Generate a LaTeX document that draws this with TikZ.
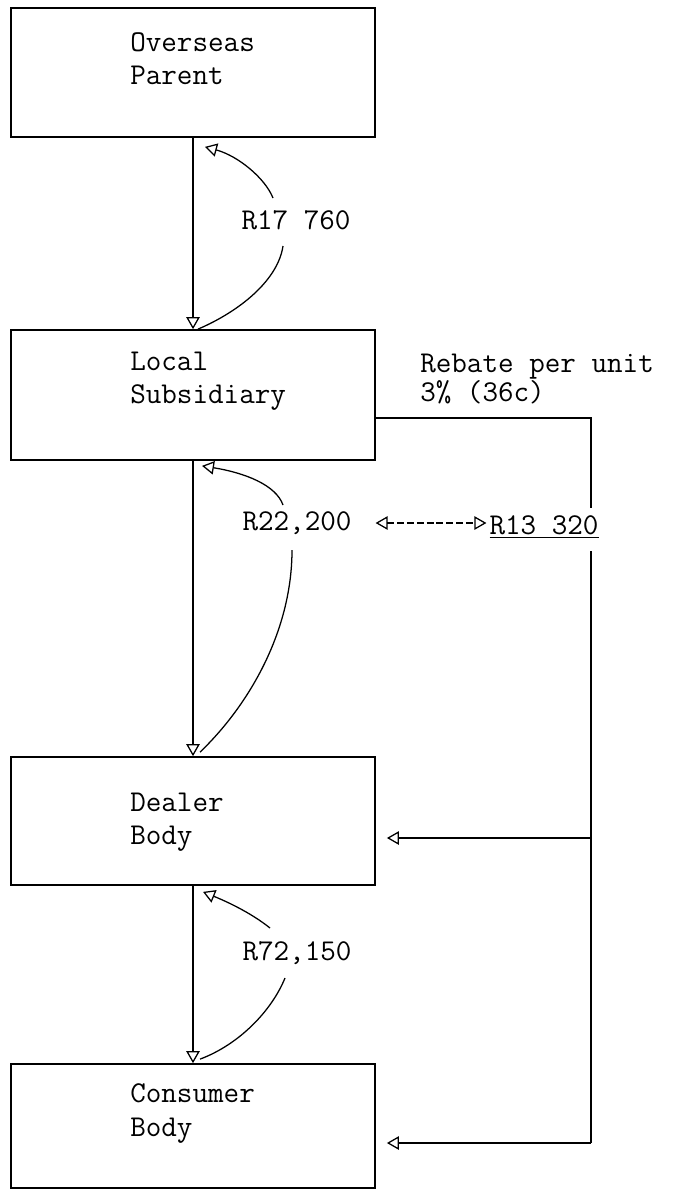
\documentclass[tikz,border=0pt]{standalone}
\usepackage{tikz}
\usetikzlibrary{arrows.meta,calc}

\begin{document}
\begin{tikzpicture}[x=0.025cm, y=-0.025cm,
  unitbox/.style={draw, line width=1.2pt, minimum width=9.1cm, inner sep=0pt},
  boxtext/.style={anchor=west, align=left, inner sep=0pt, font=\fontsize{21.5pt}{23.5pt}\selectfont\ttfamily},
  amount/.style={inner sep=2pt, font=\fontsize{21.5pt}{23.5pt}\selectfont\ttfamily},
  note/.style={anchor=west, align=left, inner sep=0pt, font=\fontsize{21.5pt}{20pt}\selectfont\ttfamily},
  flow/.style={line width=0.9pt},
  >={Triangle[open, length=8.5pt, width=9.5pt]}]
\useasboundingbox (0,0) rectangle (678,1191);

\node[unitbox, minimum height=3.225cm] (P) at (193,72.5) {};
\node[unitbox, minimum height=3.25cm] (L) at (193,395) {};
\node[unitbox, minimum height=3.2cm] (D) at (193,821) {};
\node[unitbox, minimum height=3.1cm] (C) at (193,1126) {};

\node[boxtext] (Pt) at (130,58.5) {Overseas\\Parent};
\node[boxtext] (Lt) at (130,381) {Local\\Subsidiary};
\node[boxtext] (Dt) at (130,822.5) {Dealer\\Body};
\node[boxtext] (Ct) at (130,1113.5) {Consumer\\Body};

\node[amount] (a1) at (296,220) {R17 760};
\node[amount] (a2) at (297,523) {R22,200};
\node[amount] (a3) at (297,953) {R72,150};
\node[amount] (r) at (544,527) {\underline{R13 320}};
\node[note] (reb) at (420,379) {Rebate per unit\\3\% (36c)};

\draw[flow,->] (P.south) -- (L.north);
\draw[flow,->] (L.south) -- (D.north);
\draw[flow,->] (D.south) -- (C.north);

\draw[flow,->] ($(a1)+(-23,-22)$) .. controls ($(a1)+(-31,-42)$) and ($(P.south)+(45,18)$) .. ($(P.south)+(12,9)$);
\draw[flow] ($(a1)+(-13,26)$) .. controls ($(a1)+(-18,60)$) and ($(L.north)+(47,-18)$) .. ($(L.north)+(5,0)$);

\draw[flow,->] ($(a2)+(-14,-18)$) .. controls ($(a2)+(-21,-38)$) and ($(L.south)+(52,12)$) .. ($(L.south)+(9,5)$);
\draw[flow] ($(a2)+(-5,27)$) .. controls ($(a2)+(-5,107)$) and ($(D.north)+(57,-52)$) .. ($(D.north)+(7,-4)$);

\draw[flow,->] ($(a3)+(-27,-25)$) .. controls ($(a3)+(-47,-41)$) and ($(D.south)+(32,15)$) .. ($(D.south)+(10,6)$);
\draw[flow] ($(a3)+(-12,25)$) .. controls ($(a3)+(-25,57)$) and ($(C.north)+(47,-19)$) .. ($(C.north)+(7,-4)$);

\draw[flow, <->, dash pattern=on 5pt off 2pt] ($(a2.east)+(21,0)$) -- (a2.east -| r.west);

\coordinate (rt) at (591,418);
\coordinate (dt) at (591,838);
\coordinate (ct) at (591,1143);
\draw[flow] (L.east |- rt) -- (rt) -- ($(rt |- r.north)+(0,-5)$);
\draw[flow] ($(ct |- r.south)+(0,10)$) -- (ct);
\draw[flow,->] (dt) -- ($(D.east |- dt)+(11,0)$);
\draw[flow,->] (ct) -- ($(C.east |- ct)+(11,0)$);
\end{tikzpicture}
\end{document}
